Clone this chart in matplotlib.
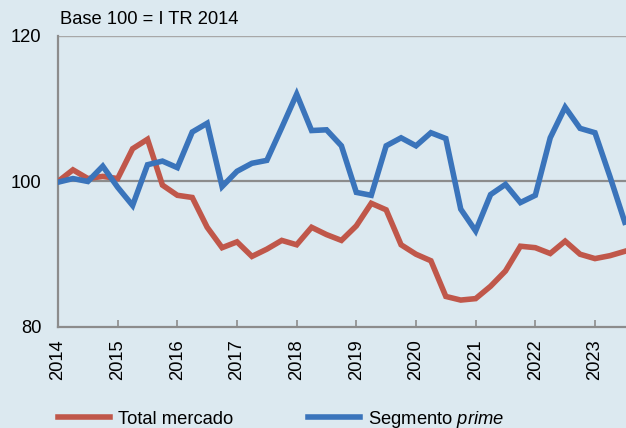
import numpy as np
import matplotlib
matplotlib.use("Agg")
import matplotlib.pyplot as plt

plt.rcParams["font.family"] = ["Liberation Sans", "DejaVu Sans"]
plt.rcParams["mathtext.fontset"] = "custom"
plt.rcParams["mathtext.rm"] = "Liberation Sans"
plt.rcParams["mathtext.it"] = "Liberation Sans:italic"

# Quarterly index, base 100 = Q1 2014 (Q1 2014 .. Q3 2023)
start_year = 2014
total_mercado = [
    100.0, 101.6, 100.4, 100.7, 100.4, 104.5, 105.8, 99.5, 98.1, 97.8,
    93.7, 90.9, 91.7, 89.7, 90.7, 91.9, 91.3, 93.7, 92.7, 91.9,
    93.9, 97.0, 96.1, 91.3, 90.0, 89.1, 84.2, 83.7, 83.9, 85.6,
    87.7, 91.1, 90.9, 90.1, 91.8, 90.0, 89.4, 89.8, 90.4,
]
segmento_prime = [
    99.9, 100.4, 100.0, 102.1, 99.2, 96.7, 102.3, 102.8, 101.9, 106.8,
    108.0, 99.3, 101.4, 102.5, 102.9, 107.4, 112.0, 107.0, 107.1, 104.9,
    98.5, 98.1, 104.9, 106.0, 104.9, 106.7, 105.9, 96.2, 93.2, 98.2,
    99.6, 97.1, 98.1, 106.0, 110.2, 107.3, 106.7, 100.7, 94.4,
]
years = list(range(2014, 2024))

x = start_year + np.arange(len(total_mercado)) / 4

bg = "#dce9f0"
red = "#c0574a"
blue = "#3a74bb"
fs = 13.2

fig = plt.figure(figsize=(6.26, 4.28), dpi=100, facecolor=bg)
ax = fig.add_axes([0.0927, 0.236, 0.9073, 0.68], facecolor=bg)

ax.axhline(120, color="#a8a8a8", lw=1.0, zorder=1)
ax.axhline(100, color="#8c8c8c", lw=1.6, zorder=1)

l1, = ax.plot(x, total_mercado, color=red, lw=4.0, solid_joinstyle="miter",
              label="Total mercado", zorder=3)
l2, = ax.plot(x, segmento_prime, color=blue, lw=4.0, solid_joinstyle="miter",
              label=r"Segmento $\mathit{prime}$", zorder=3)

ax.set_xlim(2014, 2023.52)
ax.set_ylim(80, 120)
ax.set_yticks([80, 100, 120])
ax.set_xticks(years)
ax.set_xticklabels([str(y) for y in years], rotation=90)

for s in ["top", "right"]:
    ax.spines[s].set_visible(False)
for s in ["left", "bottom"]:
    ax.spines[s].set_color("#8c8c8c")
    ax.spines[s].set_linewidth(1.6)

ax.tick_params(axis="y", length=0, labelsize=fs, pad=12)
ax.tick_params(axis="x", direction="in", length=5, width=1.2, color="#8c8c8c",
               labelsize=fs, pad=9)

fig.text(60 / 626, 1 - 19 / 428, "Base 100 = I TR 2014", fontsize=fs,
         ha="left", va="center")

fig.legend(handles=[l1, l2], loc="center left", bbox_to_anchor=(0.0927, 1 - 419 / 428),
           ncol=2, frameon=False, fontsize=fs, borderpad=0, borderaxespad=0,
           handlelength=2.85, handletextpad=0.4, columnspacing=4.1)

fig.savefig("out.png", dpi=100, facecolor=bg)
